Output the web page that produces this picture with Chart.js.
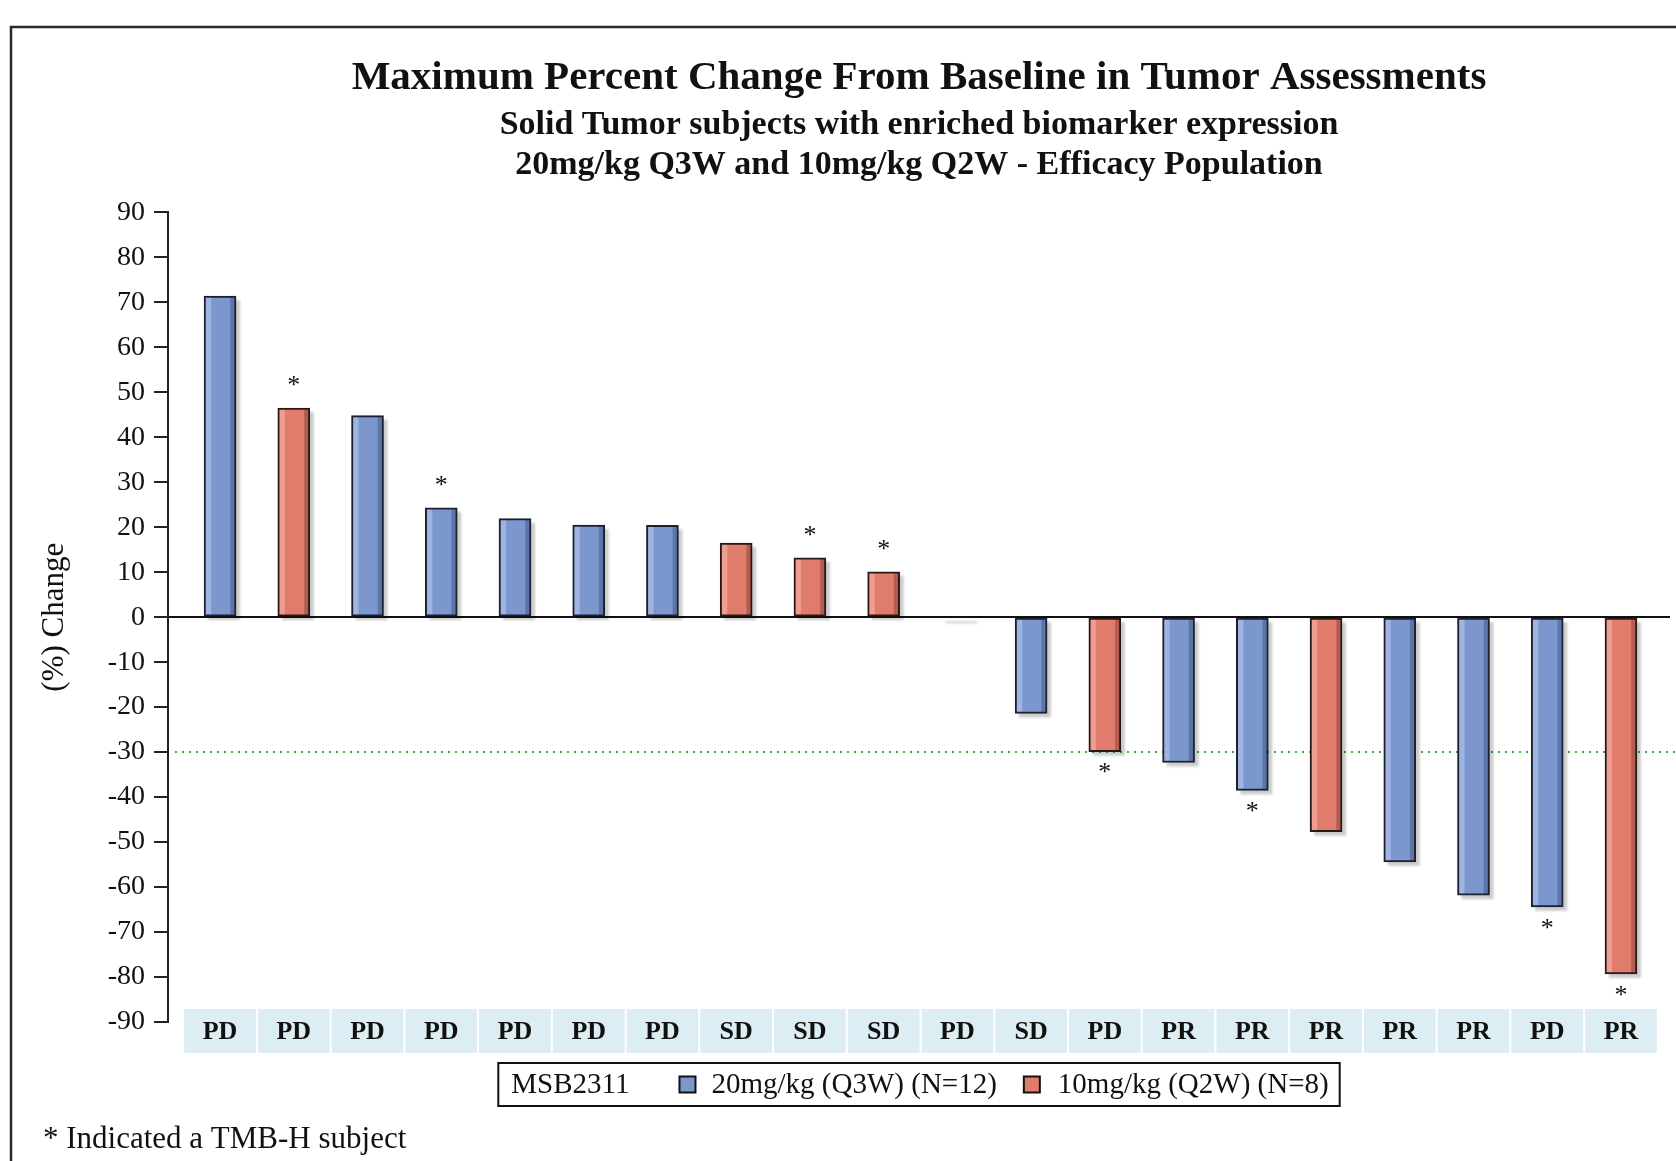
<!DOCTYPE html>
<html>
<head>
<meta charset="utf-8">
<script src="https://cdn.jsdelivr.net/npm/chart.js@4.4.1/dist/chart.umd.min.js"></script>
<style>
  html, body { margin: 0; padding: 0; background: #fff; }
  #wrap { width: 1676px; height: 1161px; position: relative; }
</style>
</head>
<body>
<div id="wrap"><canvas id="waterfall"></canvas></div>
<script>
// one entry per subject, sorted by best change
const responses = ['PD', 'PD', 'PD', 'PD', 'PD', 'PD', 'PD', 'SD', 'SD', 'SD',
                   'PD', 'SD', 'PD', 'PR', 'PR', 'PR', 'PR', 'PR', 'PD', 'PR'];
const changes = [71.4, 46.5, 44.8, 24.3, 21.9, 20.5, 20.4, 16.5, 13.2, 10.1,
                 0, -21.4, -29.9, -32.3, -38.5, -47.7, -54.4, -61.8, -64.4, -79.3];
const doseGroup = [0, 1, 0, 0, 0, 0, 0, 1, 1, 1, 1, 0, 1, 0, 0, 1, 0, 0, 0, 1];
const tmbHigh = [false, true, false, true, false, false, false, false, true, true,
                 false, false, true, false, true, false, false, false, true, true];
const groupLabels = ['20mg/kg (Q3W) (N=12)', '10mg/kg (Q2W) (N=8)'];
const legendTitle = 'MSB2311';
const responseLimit = -30;

const SERIF = '"Liberation Serif", "Times New Roman", serif';
const fills = ['#7C97CE', '#DF7C6C'];
const lights = ['#9FB4E0', '#EE9E90'];
const darks = ['#5C74A8', '#B35C50'];
const borders = ['#1B1F2E', '#2A1815'];

function barFill(context, g) {
    const xScale = context.chart.scales.x;
    if (context.type !== 'data' || !xScale) return fills[g];
    const cx = xScale.getPixelForValue(context.raw.x);
    if (!isFinite(cx)) return fills[g];
    const grad = context.chart.ctx.createLinearGradient(cx - 16, 0, cx + 16, 0);
    grad.addColorStop(0, lights[g]);
    grad.addColorStop(0.2, lights[g]);
    grad.addColorStop(0.24, fills[g]);
    grad.addColorStop(0.8, fills[g]);
    grad.addColorStop(0.84, darks[g]);
    grad.addColorStop(1, darks[g]);
    return grad;
}

const datasets = groupLabels.map((label, g) => ({
    label: label,
    data: changes.map((v, i) => ({ x: i, y: v })).filter((p, i) => doseGroup[i] === g),
    backgroundColor: ctx => barFill(ctx, g),
    borderColor: borders[g],
    borderWidth: 2,
    borderSkipped: false,
    barThickness: 32,
    grouped: false
}));

const decorations = {
    id: 'decorations',
    beforeDraw(chart) {
        const ctx = chart.ctx;
        ctx.save();
        ctx.fillStyle = '#fff';
        ctx.fillRect(0, 0, chart.width, chart.height);
        ctx.strokeStyle = '#2a2a2a';
        ctx.lineWidth = 2.5;
        ctx.strokeRect(11, 27, chart.width + 40, chart.height + 40);
        ctx.restore();
    },
    beforeDatasetsDraw(chart) {
        const ctx = chart.ctx;
        const area = chart.chartArea;
        const y = chart.scales.y.getPixelForValue(responseLimit);
        ctx.save();
        ctx.strokeStyle = '#3DAA48';
        ctx.lineWidth = 2;
        ctx.setLineDash([2, 5]);
        ctx.beginPath();
        ctx.moveTo(area.left + 7, y);
        ctx.lineTo(area.right + 10, y);
        ctx.stroke();
        ctx.setLineDash([]);
        // drop shadow behind each bar
        ctx.fillStyle = 'rgba(0,0,0,0.2)';
        ctx.filter = 'blur(1px)';
        chart.data.datasets.forEach((d, di) => {
            chart.getDatasetMeta(di).data.forEach(bar => {
                const top = Math.min(bar.y, bar.base);
                const h = Math.max(Math.abs(bar.base - bar.y), 2);
                ctx.fillRect(bar.x - bar.width / 2 + 4, top + 4, bar.width, h);
            });
        });
        ctx.restore();
    },
    afterDatasetsDraw(chart) {
        const ctx = chart.ctx;
        const xs = chart.scales.x, ys = chart.scales.y;
        ctx.save();
        ctx.fillStyle = '#111';
        ctx.font = '26px ' + SERIF;
        ctx.textAlign = 'center';
        ctx.textBaseline = 'middle';
        changes.forEach((v, i) => {
            if (!tmbHigh[i]) return;
            const x = xs.getPixelForValue(i);
            const y = ys.getPixelForValue(v);
            ctx.fillText('*', x, v >= 0 ? y - 22 : y + 22);
        });
        ctx.restore();
    },
    afterDraw(chart) {
        const ctx = chart.ctx;
        const area = chart.chartArea;
        const xs = chart.scales.x, ys = chart.scales.y;
        ctx.save();
        // response band
        const bandTop = ys.getPixelForValue(-90) - 13;
        ctx.font = 'bold 26px ' + SERIF;
        ctx.textAlign = 'center';
        ctx.textBaseline = 'middle';
        responses.forEach((r, i) => {
            const x0 = xs.getPixelForValue(i - 0.5) + 1;
            const x1 = xs.getPixelForValue(i + 0.5) - 1;
            ctx.fillStyle = '#DCEDF3';
            ctx.fillRect(x0, bandTop, x1 - x0, 44);
            ctx.fillStyle = '#111';
            ctx.fillText(r, (x0 + x1) / 2, bandTop + 23);
        });

        // legend
        ctx.font = '29px ' + SERIF;
        ctx.textAlign = 'left';
        const sq = 16;
        const wTitle = ctx.measureText(legendTitle).width;
        const wItems = chart.data.datasets.map(d => ctx.measureText(d.label).width);
        const total = 13 + wTitle + 50 + sq + 16 + wItems[0] + 27 + sq + 18 + wItems[1] + 11;
        const lx = (area.left + area.right) / 2 - total / 2;
        const ly = 1063, lh = 43, cy = ly + lh / 2;
        ctx.strokeStyle = '#111';
        ctx.lineWidth = 2;
        ctx.strokeRect(lx, ly, total, lh);
        ctx.fillStyle = '#111';
        let x = lx + 13;
        ctx.fillText(legendTitle, x, cy + 1);
        x += wTitle + 50;
        chart.data.datasets.forEach((d, g) => {
            ctx.fillStyle = fills[g];
            ctx.fillRect(x, cy - sq / 2, sq, sq);
            ctx.strokeStyle = '#111';
            ctx.lineWidth = 2;
            ctx.strokeRect(x, cy - sq / 2, sq, sq);
            x += sq + (g === 0 ? 16 : 18);
            ctx.fillStyle = '#111';
            ctx.fillText(d.label, x, cy + 1);
            x += wItems[g] + 27;
        });

        // footnote
        ctx.font = '31px ' + SERIF;
        ctx.fillText('* Indicated a TMB-H subject', 43, 1140);
        ctx.restore();
    }
};

new Chart(document.getElementById('waterfall'), {
    type: 'bar',
    data: { datasets: datasets },
    options: {
        responsive: true,
        maintainAspectRatio: false,
        animation: false,
        layout: { padding: { top: 31, left: 0, right: 6, bottom: 139 } },
        scales: {
            x: {
                type: 'linear',
                display: false,
                offset: false,
                grid: { offset: false },
                bounds: 'data',
                min: -0.706,
                max: 19.665
            },
            y: {
                min: -90,
                max: 90,
                afterFit: scale => { scale.width = 168; },
                ticks: {
                    stepSize: 10,
                    color: '#111',
                    padding: 9,
                    font: { family: SERIF, size: 28 }
                },
                grid: {
                    color: ctx => ctx.tick && ctx.tick.value === 0 ? '#111' : 'rgba(0,0,0,0)',
                    lineWidth: 2,
                    tickColor: '#222',
                    tickLength: 14,
                    tickWidth: 2
                },
                border: { color: '#222', width: 2 },
                title: {
                    display: true,
                    text: '(%) Change',
                    color: '#111',
                    font: { family: SERIF, size: 31 },
                    padding: { top: 36, bottom: 0 }
                }
            }
        },
        plugins: {
            legend: { display: false },
            tooltip: { enabled: false },
            title: {
                display: true,
                fullSize: false,
                text: 'Maximum Percent Change From Baseline in Tumor Assessments',
                color: '#111',
                font: { family: SERIF, size: 41, weight: 'bold', lineHeight: 1.15 },
                padding: { top: 24, bottom: 0 }
            },
            subtitle: {
                display: true,
                fullSize: false,
                text: ['Solid Tumor subjects with enriched biomarker expression',
                       '20mg/kg Q3W and 10mg/kg Q2W - Efficacy Population'],
                color: '#111',
                font: { family: SERIF, size: 34, weight: 'bold', lineHeight: 1.15 },
                padding: { top: 4, bottom: 28 }
            }
        }
    },
    plugins: [decorations]
});
</script>
</body>
</html>
